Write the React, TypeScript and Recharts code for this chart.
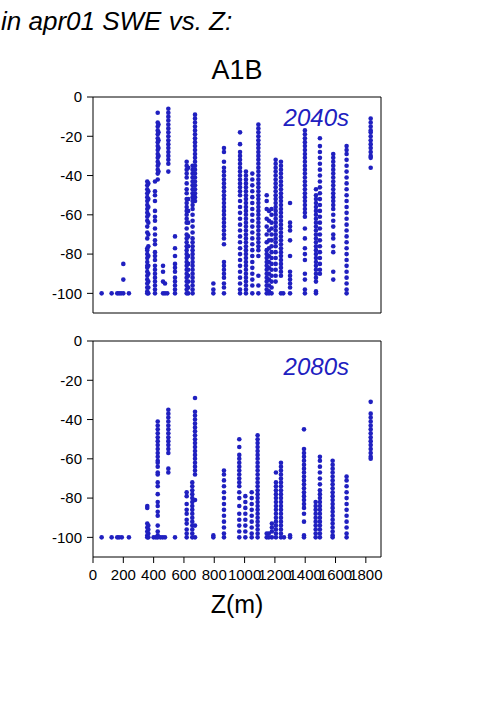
import React from 'react'
import { ScatterChart, Scatter, XAxis, YAxis } from 'recharts'

// elevation (m) of each station column, and the SWE change values (%) plotted at it
const elev2040 = [57, 123, 160, 172, 185, 200, 237, 358, 365, 409, 427, 432, 462, 475, 490, 497, 541, 618, 628, 657, 673, 794, 864, 970, 1009, 1051, 1091, 1146, 1161, 1178, 1205, 1240, 1255, 1300, 1398, 1471, 1497, 1585, 1673, 1832]
const swe2040 = [
  [-100], [-100], [-100], [-100], [-100], [-85, -93, -100], [-100],
  [-43, -45, -47, -49, -51, -53, -55, -57, -59, -61, -63, -66, -69, -72, -77, -78, -80, -82, -84, -86, -87, -89, -91, -93, -95, -97, -99, -100],
  [-44, -48, -52, -56, -60, -64, -70, -76, -81, -86, -90, -94, -97, -100],
  [-43, -48, -50, -53, -58, -61, -63, -67, -70, -73, -75, -79, -81, -83, -86, -88, -90, -92, -94, -96, -98, -100],
  [-8, -13, -15, -17, -19, -21, -23, -25, -27, -29, -31, -33, -35, -37, -39, -42],
  [-14, -18, -22, -26, -30, -34, -38],
  [-86, -89, -94, -100],
  [-95, -100],
  [-100],
  [-6, -8, -10, -12, -14, -16, -18, -20, -22, -24, -26, -28, -30, -32, -34, -38],
  [-71, -77, -81, -85, -87, -89, -92, -94, -96, -98, -100],
  [-33, -35, -37, -39, -41, -44, -47, -49, -52, -54, -56, -58, -60, -62, -64, -67, -70, -72, -74, -76, -78, -80, -82, -84, -86, -88, -90, -92, -94, -96, -98, -100],
  [-36, -52, -58, -64, -71, -76, -81, -85, -88, -91, -94, -97, -100],
  [-35, -37, -39, -41, -43, -45, -47, -49, -51, -53, -55, -57, -60, -63, -66, -69, -72, -74, -76, -78, -80, -82, -84, -86, -88, -90, -92, -94, -96, -98, -100],
  [-9, -11, -13, -15, -17, -19, -21, -23, -25, -27, -29, -31, -33, -35, -37, -39, -41, -43, -45, -47, -49, -51, -53],
  [-95, -98, -100],
  [-26, -28, -33, -36, -38, -40, -42, -44, -46, -48, -50, -52, -54, -56, -58, -60, -62, -64, -66, -68, -70, -72, -75, -84, -86, -88, -90, -92, -95, -97, -100],
  [-18, -24, -28, -30, -32, -34, -36, -38, -40, -42, -44, -46, -48, -50, -53, -56, -59, -62, -65, -68, -71, -74, -77, -80, -83, -86, -89, -92, -95, -98, -100],
  [-38, -40, -42, -44, -46, -48, -50, -52, -54, -56, -58, -60, -62, -64, -66, -68, -70, -72, -74, -76, -78, -80, -82, -84, -86, -88, -90, -92, -94, -96, -98, -100],
  [-39, -42, -45, -48, -51, -54, -57, -60, -63, -66, -69, -72, -75, -78, -81, -84, -87, -90, -93, -96, -100],
  [-14, -16, -18, -20, -22, -24, -26, -28, -30, -32, -34, -36, -38, -40, -42, -44, -46, -48, -50, -52, -54, -56, -58, -60, -62, -64, -66, -68, -70, -72, -74, -76, -78, -81, -91, -96, -100],
  [-50, -53, -57, -62, -66, -70, -74, -78, -80, -82, -84, -86, -88, -90, -92, -94, -96, -98, -100],
  [-58, -63, -68, -73, -77, -81, -84, -87, -90, -93, -96, -99, -100],
  [-57, -60, -64, -67, -70, -73, -76, -79, -82, -85, -88, -91, -94, -97, -100],
  [-32, -34, -36, -38, -40, -42, -44, -46, -48, -50, -52, -54, -56, -58, -60, -62, -64, -66, -68, -70, -72, -74, -76, -79, -82, -85, -88, -91, -94],
  [-33, -35, -37, -39, -41, -43, -45, -47, -49, -51, -53, -55, -57, -59, -61, -63, -65, -67, -69, -71, -73, -75, -77, -79, -81, -83, -85, -87, -89, -91, -100],
  [-100],
  [-54, -64, -66, -68, -73, -81, -89, -91, -93, -95, -97, -100],
  [-17, -19, -21, -23, -25, -27, -29, -31, -33, -35, -37, -39, -41, -43, -45, -47, -49, -51, -53, -55, -57, -59, -61, -67, -72, -77, -80, -83, -90, -93, -98, -100],
  [-47, -50, -52, -54, -56, -58, -60, -62, -64, -66, -68, -70, -72, -74, -76, -78, -80, -82, -84, -86, -88, -90, -92, -94, -99, -100],
  [-21, -25, -28, -31, -34, -37, -40, -43, -46, -49, -52, -55, -58, -61, -64, -67, -70, -73, -76, -79, -82, -85, -88, -90],
  [-29, -31, -33, -35, -37, -39, -41, -43, -45, -47, -49, -51, -53, -55, -57, -60, -63, -66, -70, -72, -76, -79, -89, -93],
  [-25, -27, -29, -32, -35, -38, -41, -44, -47, -50, -53, -56, -59, -62, -65, -68, -71, -74, -77, -80, -83, -86, -89, -92, -95, -98, -100],
  [-11, -13, -15, -17, -18, -20, -22, -24, -26, -28, -30, -31, -36],
]

const elev2080 = [57, 123, 160, 172, 190, 237, 358, 365, 400, 415, 427, 445, 460, 475, 497, 541, 618, 655, 673, 794, 864, 965, 1005, 1047, 1086, 1146, 1160, 1180, 1207, 1240, 1260, 1300, 1392, 1469, 1497, 1581, 1673, 1832]
const swe2080 = [
  [-100], [-100], [-100], [-100], [-100], [-100],
  [-84, -85, -93, -95, -97, -99, -100],
  [-94, -96, -98, -100],
  [-100], [-100],
  [-41, -43, -45, -47, -49, -51, -53, -55, -57, -59, -61, -62, -64, -67, -68, -72, -74, -78, -82, -84, -87, -89, -94, -97, -99, -100],
  [-100], [-100], [-100],
  [-35, -37, -39, -41, -43, -45, -47, -49, -51, -53, -55, -57, -65, -67],
  [-100],
  [-77, -79, -83, -86, -88, -91, -93, -96, -98, -100],
  [-72, -74, -76, -78, -80, -82, -84, -86, -88, -90, -92, -94, -96, -98, -100],
  [-29, -36, -38, -40, -42, -44, -46, -48, -50, -52, -54, -56, -58, -60, -62, -64, -66, -68, -81, -94, -100],
  [-99, -100],
  [-66, -68, -71, -74, -77, -80, -83, -86, -89, -92, -95, -98, -100],
  [-50, -54, -58, -60, -62, -64, -66, -68, -70, -72, -74, -77, -80, -84, -88, -91, -94, -97, -100],
  [-79, -82, -85, -88, -91, -94, -97, -100],
  [-77, -80, -83, -86, -89, -92, -95, -98, -100],
  [-48, -50, -52, -54, -56, -58, -60, -62, -64, -66, -68, -70, -72, -74, -76, -78, -80, -82, -84, -86, -88, -90, -92, -94, -96, -98, -100],
  [-98, -100], [-98, -100],
  [-93, -95, -97, -100],
  [-67, -72, -74, -76, -78, -80, -82, -84, -86, -88, -90, -92, -94, -96, -98, -100],
  [-62, -64, -66, -68, -70, -72, -74, -76, -78, -80, -82, -84, -86, -88, -90, -92, -94, -96, -98, -100],
  [-100], [-99, -100],
  [-45, -55, -57, -59, -61, -63, -65, -67, -69, -71, -73, -75, -77, -79, -81, -83, -85, -88, -92, -99, -100],
  [-82, -84, -86, -88, -90, -92, -94, -96, -98, -100],
  [-59, -61, -64, -67, -70, -73, -76, -78, -80, -82, -84, -86, -88, -90, -92, -94, -96, -98, -100],
  [-61, -63, -65, -67, -69, -71, -73, -75, -77, -79, -81, -83, -85, -87, -89, -91, -93, -95, -97, -99, -100],
  [-69, -71, -74, -77, -80, -83, -86, -89, -92, -95, -98, -100],
  [-31, -37, -39, -41, -43, -45, -47, -49, -51, -53, -55, -57, -59, -60],
]

const xTicks = [0, 200, 400, 600, 800, 1000, 1200, 1400, 1600, 1800]
const yTicks = [0, -20, -40, -60, -80, -100]

const BLUE = '#2020c0'
const FONT = '"Liberation Sans", Arial, Helvetica, sans-serif'

function toPoints(elev: number[], swe: number[][]) {
  return elev.flatMap((z, i) => swe[i].map((y) => ({ z, y })))
}

const dot = (p: any) => <circle cx={p.cx} cy={p.cy} r={2.3} fill={BLUE} />

function Panel({ data, showXLabels, showTopTicks, height, marginTop, marginBottom }: {
  data: { z: number; y: number }[]
  showXLabels: boolean
  showTopTicks: boolean
  height: number
  marginTop: number
  marginBottom: number
}) {
  const axisStyle = { stroke: '#000' }
  const tickFont = { fontSize: 15, fill: '#000', fontFamily: FONT }
  return (
    <ScatterChart width={501} height={height} margin={{ top: marginTop, right: 100, left: 0, bottom: marginBottom }}>
      <XAxis
        xAxisId="b"
        type="number"
        dataKey="z"
        domain={[0, 1900]}
        ticks={xTicks}
        interval={0}
        height={showXLabels ? 30 : 10}
        tickSize={6}
        tickMargin={6}
        axisLine={axisStyle}
        tickLine={axisStyle}
        tick={showXLabels ? tickFont : false}
      />
      <XAxis
        xAxisId="t"
        orientation="top"
        type="number"
        domain={[0, 1900]}
        ticks={xTicks}
        interval={0}
        height={10}
        tickSize={6}
        axisLine={axisStyle}
        tickLine={showTopTicks ? axisStyle : false}
        tick={false}
      />
      <YAxis
        yAxisId="l"
        type="number"
        dataKey="y"
        domain={[-110, 0]}
        ticks={yTicks}
        interval={0}
        width={93}
        tickSize={6}
        tickMargin={5}
        axisLine={axisStyle}
        tickLine={axisStyle}
        tick={tickFont}
      />
      <YAxis
        yAxisId="r"
        orientation="right"
        type="number"
        domain={[-110, 0]}
        ticks={yTicks}
        interval={0}
        width={20}
        tickSize={6}
        axisLine={axisStyle}
        tickLine={axisStyle}
        tick={false}
      />
      <Scatter xAxisId="b" yAxisId="l" data={data} shape={dot} isAnimationActive={false} />
    </ScatterChart>
  )
}

export default function App() {
  const text = { position: 'absolute' as const, fontFamily: FONT, lineHeight: 1, whiteSpace: 'nowrap' as const }
  return (
    <div style={{ position: 'absolute', left: 0, top: 0, width: 501, height: 709, background: '#fff' }}>
      <div style={{ ...text, left: 1, top: 8, fontSize: 26, fontStyle: 'italic' }}>in apr01 SWE vs. Z:</div>
      <div style={{ ...text, left: 137, width: 200, textAlign: 'center', top: 57, fontSize: 27 }}>A1B</div>
      <div style={{ position: 'absolute', left: 0, top: 0 }}>
        <Panel data={toPoints(elev2040, swe2040)} showXLabels={false} showTopTicks height={330} marginTop={87} marginBottom={7} />
      </div>
      <div style={{ position: 'absolute', left: 0, top: 330 }}>
        <Panel data={toPoints(elev2080, swe2080)} showXLabels showTopTicks={false} height={270} marginTop={1} marginBottom={13} />
      </div>
      <div style={{ ...text, right: 152, top: 106, fontSize: 24, fontStyle: 'italic', color: BLUE }}>2040s</div>
      <div style={{ ...text, right: 152, top: 355, fontSize: 24, fontStyle: 'italic', color: BLUE }}>2080s</div>
      <div style={{ ...text, left: 137, width: 200, textAlign: 'center', top: 592, fontSize: 25 }}>Z(m)</div>
    </div>
  )
}
